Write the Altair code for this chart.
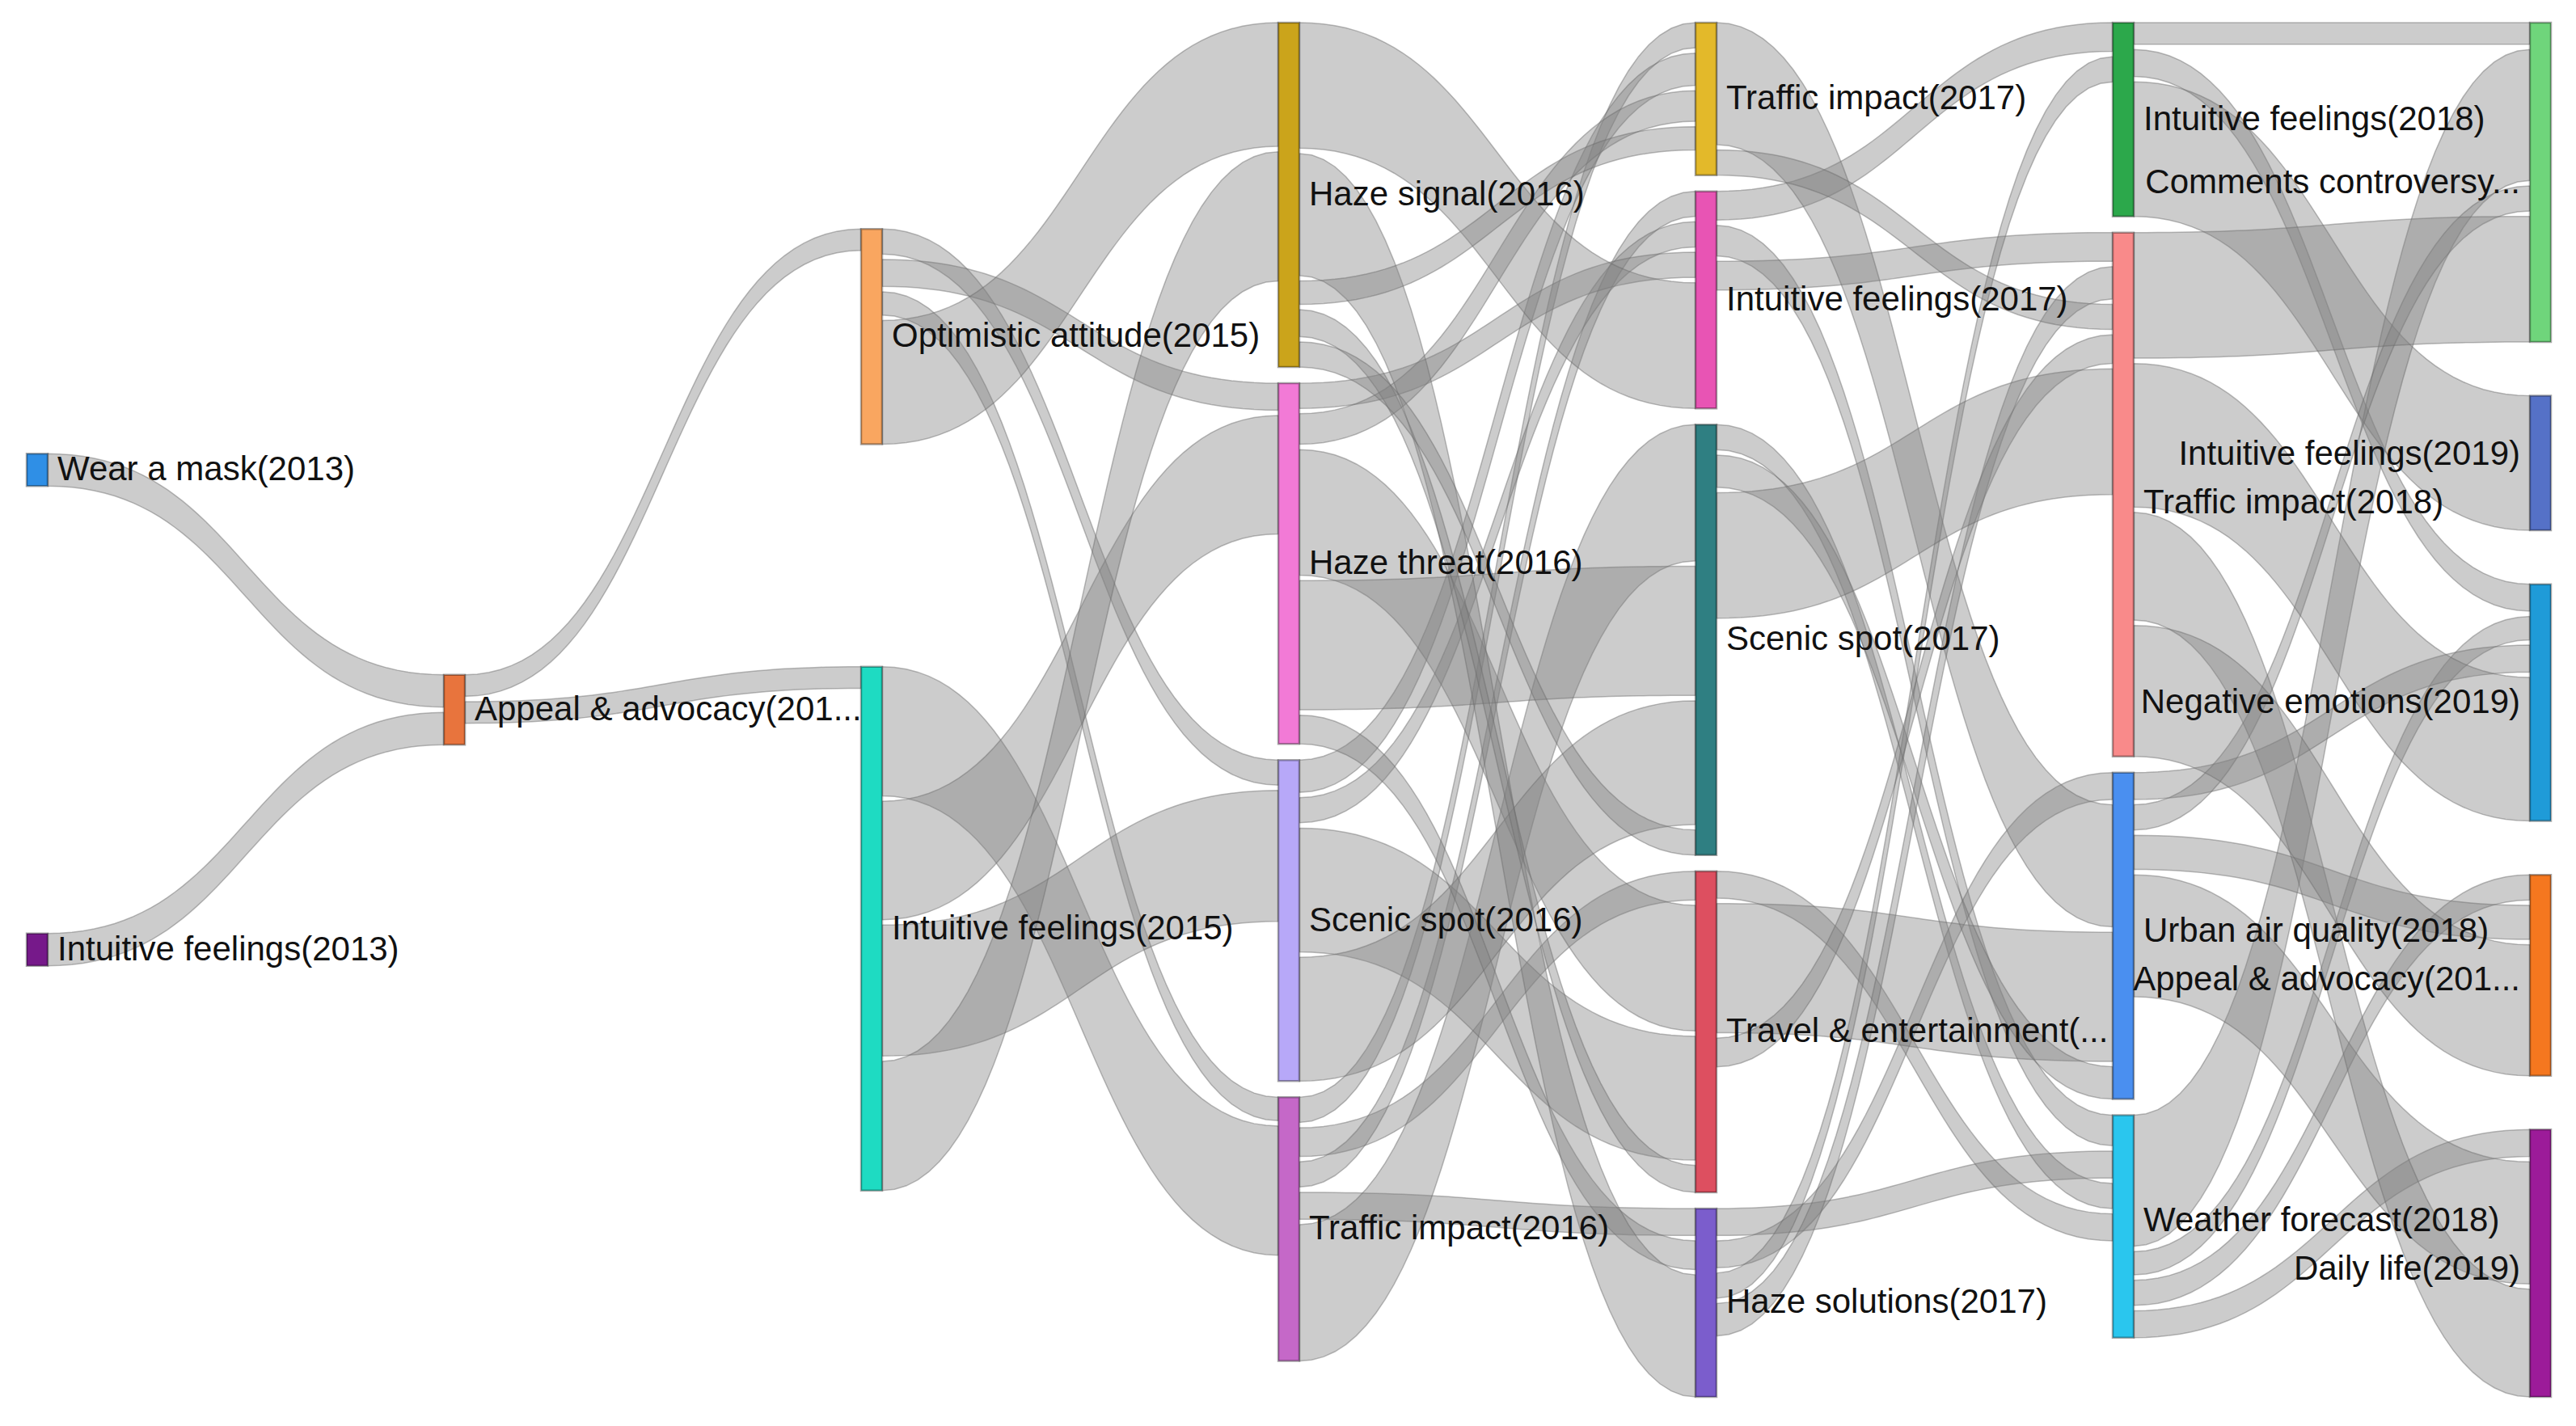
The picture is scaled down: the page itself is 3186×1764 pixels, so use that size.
import altair as alt
import pandas as pd
import numpy as np

# ---------------- data ----------------
NODE_NAMES = [
    "Wear a mask(2013)", "Intuitive feelings(2013)",
    "Appeal & advocacy(2014)",
    "Optimistic attitude(2015)", "Intuitive feelings(2015)",
    "Haze signal(2016)", "Haze threat(2016)", "Scenic spot(2016)", "Traffic impact(2016)",
    "Traffic impact(2017)", "Intuitive feelings(2017)", "Scenic spot(2017)",
    "Travel & entertainment(2017)", "Haze solutions(2017)",
    "Intuitive feelings(2018)", "Traffic impact(2018)", "Urban air quality(2018)",
    "Weather forecast(2018)",
    "Comments controversy(2019)", "Intuitive feelings(2019)", "Negative emotions(2019)",
    "Appeal & advocacy(2019)", "Daily life(2019)",
]
NODE_YEARS = [2013, 2013, 2014, 2015, 2015, 2016, 2016, 2016, 2016,
              2017, 2017, 2017, 2017, 2017, 2018, 2018, 2018, 2018,
              2019, 2019, 2019, 2019, 2019]
NODE_COLORS = [
    "#2f8fe6", "#76198a",
    "#e8743d",
    "#f9a660", "#1edbc2",
    "#cba41b", "#f27ad6", "#b7a8f8", "#c568c8",
    "#e3b92a", "#e854b4", "#2f7f82", "#dd4f60", "#7b5dcc",
    "#2ca84b", "#f98a8a", "#4a8ff0", "#2ac6ee",
    "#6fd57b", "#5571c7", "#1f9bd8", "#f5771f", "#9c1b99",
]

LINK_SOURCE = [
    "Wear a mask(2013)", "Intuitive feelings(2013)",
    "Appeal & advocacy(2014)", "Appeal & advocacy(2014)",
    "Optimistic attitude(2015)", "Optimistic attitude(2015)", "Optimistic attitude(2015)", "Optimistic attitude(2015)",
    "Intuitive feelings(2015)", "Intuitive feelings(2015)", "Intuitive feelings(2015)", "Intuitive feelings(2015)",
    "Traffic impact(2016)", "Traffic impact(2016)", "Traffic impact(2016)", "Traffic impact(2016)", "Traffic impact(2016)",
    "Scenic spot(2016)", "Scenic spot(2016)",
    "Haze threat(2016)", "Haze threat(2016)", "Haze threat(2016)", "Haze threat(2016)",
    "Scenic spot(2016)", "Scenic spot(2016)",
    "Haze threat(2016)",
    "Haze signal(2016)", "Haze signal(2016)", "Haze signal(2016)", "Haze signal(2016)", "Haze signal(2016)",
    "Intuitive feelings(2017)", "Intuitive feelings(2017)", "Intuitive feelings(2017)",
    "Haze solutions(2017)", "Scenic spot(2017)", "Travel & entertainment(2017)",
    "Haze solutions(2017)", "Traffic impact(2017)", "Travel & entertainment(2017)", "Scenic spot(2017)",
    "Haze solutions(2017)", "Haze solutions(2017)", "Traffic impact(2017)",
    "Travel & entertainment(2017)", "Scenic spot(2017)",
    "Intuitive feelings(2018)", "Intuitive feelings(2018)", "Intuitive feelings(2018)",
    "Weather forecast(2018)", "Weather forecast(2018)", "Weather forecast(2018)", "Weather forecast(2018)",
    "Urban air quality(2018)", "Urban air quality(2018)", "Urban air quality(2018)", "Urban air quality(2018)",
    "Traffic impact(2018)", "Traffic impact(2018)", "Traffic impact(2018)", "Traffic impact(2018)",
]
LINK_TARGET = [
    "Appeal & advocacy(2014)", "Appeal & advocacy(2014)",
    "Optimistic attitude(2015)", "Intuitive feelings(2015)",
    "Scenic spot(2016)", "Haze threat(2016)", "Traffic impact(2016)", "Haze signal(2016)",
    "Traffic impact(2016)", "Haze threat(2016)", "Scenic spot(2016)", "Haze signal(2016)",
    "Traffic impact(2017)", "Travel & entertainment(2017)", "Intuitive feelings(2017)", "Haze solutions(2017)", "Scenic spot(2017)",
    "Traffic impact(2017)", "Intuitive feelings(2017)",
    "Intuitive feelings(2017)", "Traffic impact(2017)", "Travel & entertainment(2017)", "Scenic spot(2017)",
    "Travel & entertainment(2017)", "Scenic spot(2017)",
    "Haze solutions(2017)",
    "Intuitive feelings(2017)", "Haze solutions(2017)", "Traffic impact(2017)", "Travel & entertainment(2017)", "Scenic spot(2017)",
    "Intuitive feelings(2018)", "Weather forecast(2018)", "Traffic impact(2018)",
    "Weather forecast(2018)", "Weather forecast(2018)", "Weather forecast(2018)",
    "Urban air quality(2018)", "Urban air quality(2018)", "Urban air quality(2018)", "Urban air quality(2018)",
    "Intuitive feelings(2018)", "Traffic impact(2018)", "Traffic impact(2018)",
    "Traffic impact(2018)", "Traffic impact(2018)",
    "Comments controversy(2019)", "Negative emotions(2019)", "Intuitive feelings(2019)",
    "Comments controversy(2019)", "Negative emotions(2019)", "Appeal & advocacy(2019)", "Daily life(2019)",
    "Negative emotions(2019)", "Comments controversy(2019)", "Appeal & advocacy(2019)", "Daily life(2019)",
    "Comments controversy(2019)", "Negative emotions(2019)", "Daily life(2019)", "Appeal & advocacy(2019)",
]
LINK_VALUE = [
    18, 18,
    12, 12,
    14, 15, 13, 69,
    72, 66, 73, 72,
    14, 16, 14, 15, 76,
    18, 14,
    14, 17, 70, 72,
    69, 69,
    16,
    70, 68, 13, 15, 14,
    16, 17, 16,
    15, 14, 15,
    15, 68, 72, 18,
    14, 18, 14,
    16, 70,
    12, 15, 75,
    73, 13, 14, 15,
    15, 14, 19, 68,
    70, 80, 60, 73,
]

# ---------------- layout settings ----------------
CHART_W, CHART_H = 3170, 1748
AREA_X0, AREA_X1 = 25, 3147
AREA_Y0, AREA_Y1 = 0, 1740
NODE_W = 26
NODE_GAP = 20
LINK_GAP = 3
COLUMN_ALIGN = ["evenly", "evenly", "evenly", "top", "top", "top", "between"]
LABEL_PAD = 12
LABEL_MIN_SEP = 60
SAMPLES = 48


def sankey_layout():
    n = len(NODE_NAMES)
    index = {name: i for i, name in enumerate(NODE_NAMES)}
    src = [index[s] for s in LINK_SOURCE]
    tgt = [index[t] for t in LINK_TARGET]
    nl = len(LINK_VALUE)
    outs = [[] for _ in range(n)]
    ins = [[] for _ in range(n)]
    for k in range(nl):
        outs[src[k]].append(k)
        ins[tgt[k]].append(k)

    def stack(ks):
        return sum(LINK_VALUE[k] for k in ks) + LINK_GAP * max(len(ks) - 1, 0)

    val = [max(stack(outs[i]), stack(ins[i])) for i in range(n)]
    y_min = min(NODE_YEARS)
    depth = [yr - y_min for yr in NODE_YEARS]
    maxd = max(depth)
    cols = [[i for i in range(n) if depth[i] == d] for d in range(maxd + 1)]
    H = AREA_Y1 - AREA_Y0
    ky = min((H - (len(c) + 1) * NODE_GAP) / sum(val[i] for i in c) for c in cols)
    dy = [v * ky for v in val]
    y = [0.0] * n
    for d, c in enumerate(cols):
        total = sum(dy[i] for i in c)
        mode = COLUMN_ALIGN[d]
        if mode == "evenly":
            top = gap = (H - total) / (len(c) + 1)
        elif mode == "between" and len(c) > 1:
            top = NODE_GAP
            gap = (H - total - 2 * NODE_GAP) / (len(c) - 1)
        else:
            top = gap = NODE_GAP
        yy = AREA_Y0 + top
        for i in c:
            y[i] = yy
            yy += dy[i] + gap

    kx = (AREA_X1 - AREA_X0 - NODE_W) / maxd
    xl = [AREA_X0 + depth[i] * kx for i in range(n)]

    # link slot offsets (stacked from the node top)
    sy = [0.0] * nl
    ty = [0.0] * nl
    for i in range(n):
        off = 0.0
        for k in outs[i]:
            sy[k] = off
            off += (LINK_VALUE[k] + LINK_GAP) * ky
        off = 0.0
        for k in ins[i]:
            ty[k] = off
            off += (LINK_VALUE[k] + LINK_GAP) * ky

    # label positions; facing labels of the last two columns are pushed apart
    label_y = [y[i] + dy[i] / 2 for i in range(n)]
    a_col, b_col = cols[maxd - 1], cols[maxd]
    for _ in range(10):
        for a in a_col:
            for b in b_col:
                sep = label_y[b] - label_y[a]
                if abs(sep) < LABEL_MIN_SEP:
                    push = (LABEL_MIN_SEP - abs(sep)) / 2
                    sgn = 1 if sep >= 0 else -1
                    label_y[a] -= sgn * push
                    label_y[b] += sgn * push

    node_rows = []
    for i in range(n):
        right_side = depth[i] < maxd
        node_rows.append({
            "name": NODE_NAMES[i],
            "x0": xl[i], "x1": xl[i] + NODE_W,
            "y0": y[i], "y1": y[i] + dy[i], "yc": label_y[i],
            "lx": xl[i] + NODE_W + LABEL_PAD if right_side else xl[i] - LABEL_PAD,
            "side": "right" if right_side else "left",
        })

    link_rows = []
    t = np.linspace(0, 1, SAMPLES)
    b0 = (1 - t) ** 3
    b1 = 3 * (1 - t) ** 2 * t
    b2 = 3 * (1 - t) * t ** 2
    b3 = t ** 3
    for k in range(nl):
        s, g = src[k], tgt[k]
        x0 = xl[s] + NODE_W
        x1 = xl[g]
        xm = (x0 + x1) / 2
        ys0 = y[s] + sy[k]
        yt0 = y[g] + ty[k]
        th = LINK_VALUE[k] * ky
        bx = b0 * x0 + (b1 + b2) * xm + b3 * x1
        btop = (b0 + b1) * ys0 + (b2 + b3) * yt0
        for j in range(SAMPLES):
            link_rows.append({"lid": k, "x": float(bx[j]),
                              "y": float(btop[j]), "y2": float(btop[j] + th)})
    return pd.DataFrame(node_rows), pd.DataFrame(link_rows)


nodes_df, links_df = sankey_layout()

xs = alt.Scale(domain=[0, CHART_W], nice=False, zero=False)
ys = alt.Scale(domain=[0, CHART_H], nice=False, zero=False, reverse=True)

links = alt.Chart(links_df).mark_area(
    fill="#808080", fillOpacity=0.4, stroke="#6a6a6a", strokeOpacity=0.45, strokeWidth=1.5
).encode(
    x=alt.X("x:Q", scale=xs, axis=None),
    y=alt.Y("y:Q", scale=ys, axis=None),
    y2="y2:Q",
    detail="lid:N",
)

rects = alt.Chart(nodes_df).mark_rect(stroke="#000000", strokeOpacity=0.35, strokeWidth=2.5).encode(
    x=alt.X("x0:Q", scale=xs, axis=None), x2="x1:Q",
    y=alt.Y("y0:Q", scale=ys, axis=None), y2="y1:Q",
    fill=alt.Fill("name:N", scale=alt.Scale(domain=NODE_NAMES, range=NODE_COLORS), legend=None),
)

text_style = dict(baseline="middle", fontSize=42, font="Liberation Sans", color="#111111",
                  limit=480, ellipsis="...")

labels_r = alt.Chart(nodes_df).transform_filter("datum.side == 'right'").mark_text(
    align="left", **text_style
).encode(
    x=alt.X("lx:Q", scale=xs, axis=None),
    y=alt.Y("yc:Q", scale=ys, axis=None),
    text="name:N",
)
labels_l = alt.Chart(nodes_df).transform_filter("datum.side == 'left'").mark_text(
    align="right", **text_style
).encode(
    x=alt.X("lx:Q", scale=xs, axis=None),
    y=alt.Y("yc:Q", scale=ys, axis=None),
    text="name:N",
)

chart = alt.layer(links, rects, labels_r, labels_l).properties(
    width=CHART_W, height=CHART_H, padding=0,
    autosize=alt.AutoSizeParams(type="none"),
    background="white",
).configure_view(stroke=None)

chart.save("out.html", embed_options={"renderer": "svg", "actions": False})
